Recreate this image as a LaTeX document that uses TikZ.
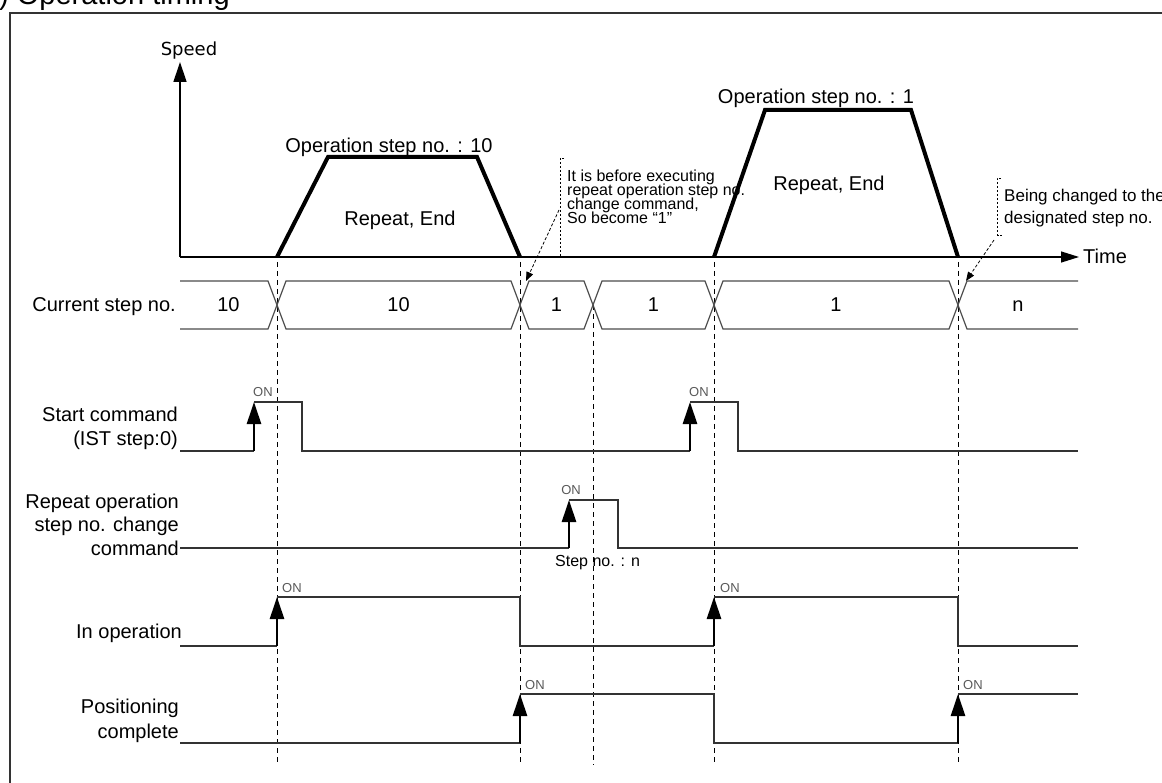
\documentclass[tikz,border=0pt]{standalone}
\usepackage{fontspec}
\setmainfont{Liberation Sans}
\newfontfamily\dejavu{DejaVu Sans}
\usetikzlibrary{arrows.meta}
\begin{document}
\begin{tikzpicture}[x=1pt,y=-1pt,
  lbl/.style={inner sep=0pt, font=\fontsize{20}{24}\selectfont},
  note/.style={inner sep=0pt, font=\fontsize{16}{19}\selectfont},
  notebig/.style={inner sep=0pt, font=\fontsize{17}{20}\selectfont},
  onlbl/.style={inner sep=0pt, text=black!65, font=\fontsize{13}{15}\selectfont},
  sig/.style={line width=1.3pt, draw=black!80},
  sigarrow/.style={line width=2.6pt, -{Triangle[length=22pt,width=14pt]}},
  rowc/.style={line width=1.2pt, draw=black!70},
  guide/.style={line width=1pt, dash pattern=on 5pt off 4pt},
  bracket/.style={line width=0.8pt, dash pattern=on 2.5pt off 1.5pt},
  notearrow/.style={line width=0.8pt, dash pattern=on 3pt off 2pt, -{Triangle[length=9pt,width=7pt]}},
  prof/.style={line width=4pt},
  axis/.style={line width=1.3pt}]
\useasboundingbox (0,0) rectangle (1162,783);

% title and frame
\node[anchor=base west, inner sep=0pt, font=\fontsize{29}{34}\selectfont] (title) at (-1,5) {) Operation timing};
\draw[line width=1.2pt, draw=black!80] (1163,13) -- (10,13) -- (10,784);

% guide lines
\foreach \gx/\gy in {277/262, 520/262, 593/305, 714/262, 958/262}
  \draw[guide] (\gx,\gy) -- (\gx,765);

% axes
\coordinate (O) at (180,257);
\coordinate (vtop) at (180,62);
\coordinate (htip) at (1079,257);
\draw[axis, -{Triangle[length=20pt,width=13pt]}] (O) -- (vtop);
\draw[axis, -{Triangle[length=18pt,width=11pt]}] (O) -- (htip);
\node[inner sep=0pt, anchor=base, font=\dejavu\fontsize{18}{21}\selectfont] (speed) at (189,56) {Speed};
\node[lbl, anchor=base west] (time) at (1083,264) {Time};

% speed profiles
\draw[prof] (277,257) -- (328,157) -- (477,157) -- (520,257);
\draw[prof] (714,257) -- (765,110) -- (911,110) -- (958,257);
\node[lbl, anchor=base] (op10) at (389,153) {Operation step no. : 10};
\node[lbl, anchor=base] (op1) at (816,104) {Operation step no. : 1};
\node[lbl, anchor=base] (re1) at (400,226) {Repeat, End};
\node[lbl, anchor=base] (re2) at (829,191) {Repeat, End};

% note 1
\draw[bracket] (564,158) -- (560,158) -- (560,257) -- (565,257);
\node[note, anchor=base west] (n1a) at (567,182) {It is before executing};
\node[note, anchor=base west] (n1b) at (567,196) {repeat operation step no.};
\node[note, anchor=base west] (n1c) at (567,210) {change command,};
\node[note, anchor=base west] (n1d) at (567,224) {So become “1”};
\coordinate (n1s) at (559,210);
\coordinate (n1e) at (526,281);
\draw[notearrow] (n1s) -- (n1e);

% note 2
\draw[bracket] (1001,178) -- (997,178) -- (997,235) -- (1002,235);
\node[notebig, anchor=base west] (n2a) at (1004,202) {Being changed to the};
\node[notebig, anchor=base west] (n2b) at (1004,224) {designated step no.};
\coordinate (n2s) at (994,240);
\coordinate (n2e) at (966,281);
\draw[notearrow] (n2s) -- (n2e);

% current step row
\node[lbl, anchor=base east] (cur) at (176,312) {Current step no.};
\draw[rowc] (180,281) -- (268,281) -- (286,329) -- (511,329) -- (529,281) -- (584,281) -- (602,329) -- (705,329) -- (723,281) -- (949,281) -- (967,329) -- (1078,329);
\draw[rowc] (180,329) -- (268,329) -- (286,281) -- (511,281) -- (529,329) -- (584,329) -- (602,281) -- (705,281) -- (723,329) -- (949,329) -- (967,281) -- (1078,281);
\foreach \sx/\st [count=\i] in {228.5/10, 398.5/10, 556.5/1, 653.5/1, 836/1, 1018/n}
  \node[lbl, anchor=base] (s\i) at (\sx,312) {\st};

% start command
\node[lbl, anchor=base east] (sc1) at (178,421) {Start command};
\node[lbl, anchor=base east] (sc2) at (178,445) {(IST step:0)};
\draw[sig] (180,451) -- (254,451);
\draw[sigarrow] (254,451) -- (254,402);
\draw[sig] (254,402) -- (302,402) -- (302,451) -- (690,451);
\draw[sigarrow] (690,451) -- (690,402);
\draw[sig] (690,402) -- (738,402) -- (738,451) -- (1078,451);
\node[onlbl, anchor=base west] (on1) at (253,396) {ON};
\node[onlbl, anchor=base west] (on2) at (689,396) {ON};

% repeat operation step no. change command
\node[lbl, anchor=base east] (rc1) at (179,508) {Repeat operation};
\node[lbl, anchor=base east] (rc2) at (179,531.5) {step no. change};
\node[lbl, anchor=base east] (rc3) at (179,555) {command};
\draw[sig] (180,548) -- (569,548);
\draw[sigarrow] (569,548) -- (569,500);
\draw[sig] (569,500) -- (618,500) -- (618,548) -- (1078,548);
\node[onlbl, anchor=base] (on3) at (571,494) {ON};
\node[note, anchor=base west] (stepn) at (555,566) {Step no. : n};

% in operation
\node[lbl, anchor=base east] (io) at (182,638) {In operation};
\draw[sig] (180,646) -- (277,646);
\draw[sigarrow] (277,646) -- (277,597);
\draw[sig] (277,597) -- (520,597) -- (520,646) -- (714,646);
\draw[sigarrow] (714,646) -- (714,597);
\draw[sig] (714,597) -- (958,597) -- (958,646) -- (1078,646);
\node[onlbl, anchor=base west] (on4) at (282,592) {ON};
\node[onlbl, anchor=base west] (on5) at (720,592) {ON};

% positioning complete
\node[lbl, anchor=base east] (pc1) at (179,713) {Positioning};
\node[lbl, anchor=base east] (pc2) at (179,738) {complete};
\draw[sig] (180,743) -- (520,743);
\draw[sigarrow] (520,743) -- (520,694);
\draw[sig] (520,694) -- (714,694) -- (714,743) -- (958,743);
\draw[sigarrow] (958,743) -- (958,694);
\draw[sig] (958,694) -- (1078,694);
\node[onlbl, anchor=base west] (on6) at (525,689) {ON};
\node[onlbl, anchor=base west] (on7) at (963,689) {ON};
\end{tikzpicture}
\end{document}
